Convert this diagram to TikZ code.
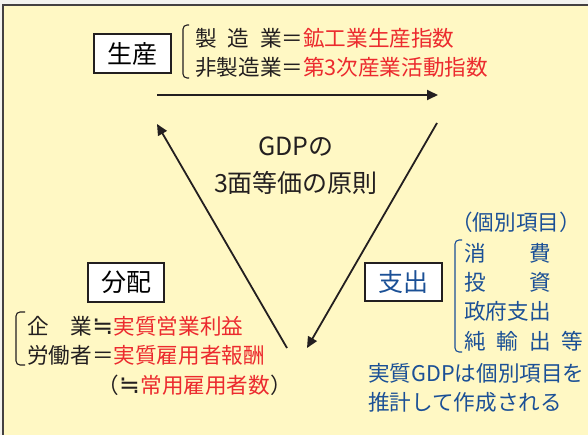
\documentclass[tikz,border=0pt]{standalone}
\usepackage{fontspec}
\setmainfont{Noto Sans CJK JP}
\newfontfamily\symfont[Scale=1.15]{DejaVu Sans}
\newcommand{\approxeqsym}{\makebox[1em]{\symfont ≒}}
\usetikzlibrary{arrows.meta}
\definecolor{bgyellow}{HTML}{FFF8C4}
\definecolor{outerbg}{HTML}{F3F3EF}
\definecolor{jred}{HTML}{EC2A2E}
\definecolor{jblue}{HTML}{1B5096}
\definecolor{jink}{HTML}{231F20}
\begin{document}
\begin{tikzpicture}[x=1pt,y=-1pt,
  labelbox/.style={draw=jink, line width=1.5pt, fill=white, inner sep=0pt,
    minimum width=77pt, minimum height=39pt, font=\fontsize{25}{30}\selectfont},
  txt/.style={inner sep=0pt, anchor=west, text=jink, font=\fontsize{21.6}{26}\selectfont},
  bluetxt/.style={txt, text=jblue},
  bracket/.style={draw=jink, line width=1.1pt, rounded corners=4pt},
  bluebracket/.style={bracket, draw=jblue},
  flow/.style={draw=jink, line width=1.8pt, -{Triangle[length=11pt,width=10pt]}}
]
\useasboundingbox (0,0) rectangle (588,435);
\clip (0,0) rectangle (588,435);
\fill[outerbg] (0,0) rectangle (588,435);
\draw[line width=2pt, draw=jink!85, fill=bgyellow] (3,5.5) rectangle (600,450);

% production
\node[labelbox] (prod) at (132.5,53.5) {生産};
\draw[bracket] (189,25) -- (183,25) -- (183,78) -- (189,78);
\node[txt] (p1) at (195,38) {\makebox[4em][s]{製\hfill 造\hfill 業}＝\textcolor{jred}{鉱工業生産指数}};
\node[txt] (p2) at (195,67) {非製造業＝\textcolor{jred}{第3次産業活動指数}};

% center
\node[inner sep=0pt, align=center, text=jink, font=\fontsize{25}{37}\selectfont] (ctr) at (296,166) {GDPの\\3面等価の原則};

% distribution
\node[labelbox, minimum width=76pt] (dist) at (126,282.5) {分配};
\draw[bracket] (25,312) -- (16,312) -- (16,365) -- (25,365);
\node[txt] (d1) at (27,326) {\makebox[3em][s]{企\hfill 業}\approxeqsym\textcolor{jred}{実質営業利益}};
\node[txt] (d2) at (27,355) {労働者＝\textcolor{jred}{実質雇用者報酬}};
\node[txt] (d3) at (97,385) {（\approxeqsym\textcolor{jred}{常用雇用者数}）};

% expenditure
\node[labelbox, text=jblue, minimum height=38pt] (exp) at (403.5,282) {支出};
\node[bluetxt] (e0) at (451,222) {（個別項目）};
\draw[bluebracket] (462,240) -- (455,240) -- (455,352) -- (462,352);
\node[bluetxt] (e1) at (464,253) {\makebox[4em][s]{消\hfill 費}};
\node[bluetxt] (e2) at (464,282) {\makebox[4em][s]{投\hfill 資}};
\node[bluetxt] (e3) at (464,311) {政府支出};
\node[bluetxt] (e4) at (464,341) {\makebox[119pt][s]{純\hfill 輸\hfill 出\hfill 等}};
\node[bluetxt] (n1) at (368,373) {実質GDPは個別項目を};
\node[bluetxt] (n2) at (368,402) {推計して作成される};

% arrows
\coordinate (a1) at (157,95);
\coordinate (a2) at (438,95);
\coordinate (b1) at (437,123);
\coordinate (b2) at (307,348);
\coordinate (c1) at (287,348);
\coordinate (c2) at (157,124);
\draw[flow] (a1) -- (a2);
\draw[flow] (b1) -- (b2);
\draw[flow] (c1) -- (c2);
\end{tikzpicture}
\end{document}
